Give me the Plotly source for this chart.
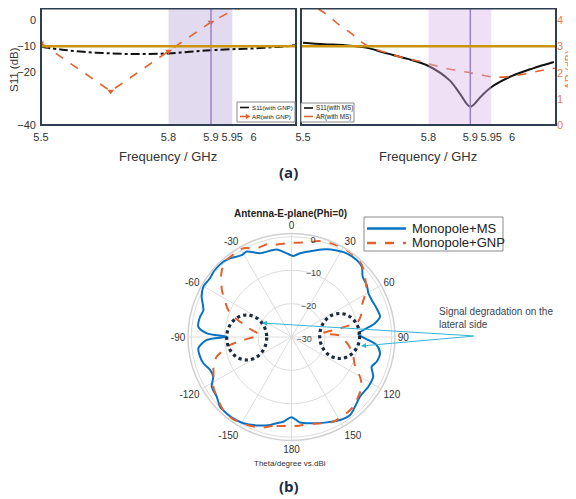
import plotly.graph_objects as go

# ---------------- data: panel (a) ----------------
freq_s11_gnp = [5.5, 5.55, 5.6, 5.65, 5.7, 5.75, 5.8, 5.85, 5.9, 5.95, 6.0, 6.05, 6.1]
s11_gnp = [-10.2, -11.3, -12.1, -12.6, -12.9, -12.9, -12.7, -12.1, -11.5, -11.1, -10.8, -10.3, -9.6]

freq_ar_gnp = [5.5, 5.664, 5.8, 5.9, 5.965]
ar_gnp = [3.13, 1.29, 2.82, 3.93, 4.5]

freq_s11_ms = [5.5, 5.55, 5.6, 5.65, 5.7, 5.75, 5.8, 5.85, 5.875, 5.9, 5.925, 5.95, 6.0, 6.05, 6.1]
s11_ms = [-8.6, -9.2, -9.6, -10.5, -12.7, -14.8, -17.5, -22.9, -28.0, -33.0, -29.2, -25.6, -21.3, -18.4, -16.0]

freq_ar_ms = [5.536, 5.564, 5.588, 5.616, 5.64, 5.66, 5.708, 5.749, 5.789, 5.829, 5.869,
              5.901, 5.933, 5.957, 5.99, 6.03, 6.07, 6.102]
ar_ms = [4.44, 4.13, 3.80, 3.49, 3.17, 2.98, 2.72, 2.53, 2.40, 2.21, 2.08,
         1.99, 1.89, 1.83, 1.85, 1.95, 2.08, 2.17]

freq_ticks = [5.5, 5.8, 5.9, 5.95, 6.0]
freq_ticktext = ["5.5", "5.8", "5.9", "5.95", "6"]
s11_ticks = [0, -10, -20, -40]
ar_ticks = [0, 1, 2, 3, 4]
band_lo, band_hi, band_center = 5.8, 5.95, 5.9
S11_THRESHOLD = -10

# ---------------- data: panel (b) polar ----------------
theta_ms = [-174.5, -170.3, -166.3, -158.5, -150.8, -144.4, -139.7, -134.3, -128.6, -121.9,
            -116.9, -112, -106.6, -102.1, -96.9, -92, -89.7, -87.5, -83.7, -77.5, -73,
            -65.8, -60.3, -54.2, -49.4, -42.2, -38, -31.3, -27.7, -20.6, -9.6, -3.3, 1.3,
            5.8, 14.2, 21.9, 27.6, 33.4, 40.3, 45, 49.7, 55.3, 60.4, 65.2, 71.4, 77.1,
            80.7, 87.4, 91, 95.4, 100.4, 106.2, 110.3, 115.9, 122.9, 131.1, 137.7, 143.1,
            149.7, 157.4, 165.8, 174.3, 180]
r_ms = [-4.5, -3.8, -2.9, -1.55, -0.4, 0.0, 0.0, -0.1, -1.35, -1.85,
        -3.7, -3.7, -2.45, -2.0, -1.9, -4.6, -10.6, -4.6, -1.9, -1.95, -2.4,
        -0.5, 0.4, 0.1, 0.5, 0.45, -0.1, -1.3, -1.1, -3.2, -3.4, -4.9, -5.7,
        -4.8, -3.35, -1.7, -0.8, 0.0, 0.2, -0.2, -2.05, -2.6, -3.5, -3.55, -3.1, -2.8,
        -4.65, -10.0, -8.0, -4.4, -3.05, -3.45, -4.4, -2.8, -2.6, -2.8, -1.75, -0.8,
        -1.2, -2.3, -3.35, -4.25, -6.0]

theta_gnp = [-180, -168, -161, -152, -144, -137, -130.7, -122.4, -117, -110, -104.8, -97.4,
             -93.6, -86, -78, -74, -70, -66, -61, -56, -48, -42, -35, -28.5, -21.4, -14.7,
             -11.3, -0.9, 9.2, 16.5, 24.2, 32.4, 38.3, 44, 50.6, 57.8, 65, 71.3, 77, 80, 83,
             88, 92, 99, 108, 115, 120, 125, 132, 138, 144, 154, 166, 175]
r_gnp = [-3.35, -2.75, -1.25, -0.35, 0.25, -0.05, -1.05, -2.25, -3.8, -5.15, -6.8, -11.4,
         -15.5, -20.3, -16.5, -14.4, -10.9, -9.0, -7.1, -4.85, -1.7, 0.05, 0.25, 0.25, -1.45, -1.25,
         -1.85, -1.85, -1.25, -0.05, 0.55, 0.85, 0.7, 0.25, -1.55, -3.5, -6.6, -7.85, -9.6, -15.3, -20.7,
         -15.6, -14.4, -12.5, -10.5, -9.0, -6.35, -4.25, -3.15, -2.15, -1.85, -1.7, -3.2, -3.35]

ang_ticks = [0, 30, 60, 90, 120, 150, 180, 210, 240, 270, 300, 330]
ang_ticktext = ["0", "30", "60", "90", "120", "150", "180", "-150", "-120", "-90", "-60", "-30"]
rad_ticks = [-30, -20, -10, 0]

# ---------------- styling ----------------
FONT = "Liberation Sans, Arial, sans-serif"
ORANGE = "#E2622F"
AR_ORANGE = "#EC7A45"
BLUE = "#0A72C2"
GOLD = "#C9950C"
FRAME = "#2E3D50"
PAGE_OFF = 8               # default body margin of the html page
W, H = 576 - PAGE_OFF, 499 - PAGE_OFF


def px_x(v):
    return min(1.0, max(0.0, (v - PAGE_OFF) / W))


def px_y(v):
    return min(1.0, max(0.0, 1 - (v - PAGE_OFF) / H))


fig = go.Figure()

# Panel (a) left
fig.add_trace(go.Scatter(x=freq_s11_gnp, y=s11_gnp, mode="lines", name="S11(with GNP)",
                         line=dict(color="#111111", width=2, dash="dashdot", shape="spline"),
                         xaxis="x", yaxis="y", showlegend=False))
fig.add_trace(go.Scatter(x=freq_ar_gnp, y=ar_gnp, mode="lines+markers", name="AR(with GNP)",
                         line=dict(color=ORANGE, width=1.6, dash="dash"),
                         marker=dict(symbol="triangle-down", size=6, color=ORANGE),
                         xaxis="x", yaxis="y4", showlegend=False))
# Panel (a) right
fig.add_trace(go.Scatter(x=freq_s11_ms, y=s11_ms, mode="lines", name="S11(with MS)",
                         line=dict(color="#111111", width=2, shape="spline"),
                         xaxis="x2", yaxis="y2", showlegend=False))
fig.add_trace(go.Scatter(x=freq_ar_ms, y=ar_ms, mode="lines", name="AR(with MS)",
                         line=dict(color=ORANGE, width=1.6, dash="dash", shape="spline"),
                         xaxis="x2", yaxis="y3", showlegend=False))

# Panel (b) polar
fig.add_trace(go.Scatterpolar(theta=theta_ms + [theta_ms[0]], r=r_ms + [r_ms[0]],
                              mode="lines", name="Monopole+MS",
                              line=dict(color=BLUE, width=2, shape="spline", smoothing=0.8),
                              subplot="polar", showlegend=False))
fig.add_trace(go.Scatterpolar(theta=theta_gnp + [theta_gnp[0]], r=r_gnp + [r_gnp[0]],
                              mode="lines", name="Monopole+GNP",
                              line=dict(color=ORANGE, width=2, dash="dash", shape="spline", smoothing=0.6),
                              subplot="polar", showlegend=False))

dom_left = [px_x(41), px_x(296)]
dom_right = [px_x(301), px_x(556)]
dom_y = [px_y(125), px_y(8)]      # top edge of the page area
S11_RANGE = [-40, 4.6]
AR_RANGE = [0, 4.47]

axis_common = dict(showgrid=False, zeroline=False, showline=False, ticks="", automargin=False,
                   tickfont=dict(family=FONT, size=11, color="#333"))

shapes = []
for xa, ya, fill, layer in [("x", "y", "rgba(190,172,220,0.45)", "below"),
                            ("x2", "y2", "rgba(215,178,232,0.40)", "above")]:
    shapes.append(dict(type="rect", xref=xa, yref=f"{ya} domain", x0=band_lo, x1=band_hi,
                       y0=0, y1=1, fillcolor=fill, line=dict(width=0), layer=layer))
    shapes.append(dict(type="line", xref=xa, yref=f"{ya} domain", x0=band_center, x1=band_center,
                       y0=0, y1=1, line=dict(color="#9C82C4", width=1.5), layer="above"))
    shapes.append(dict(type="line", xref=f"{xa} domain", yref=ya, x0=0, x1=1,
                       y0=S11_THRESHOLD, y1=S11_THRESHOLD, line=dict(color=GOLD, width=2.5), layer="above"))
    shapes.append(dict(type="rect", xref=f"{xa} domain", yref=f"{ya} domain", x0=0, x1=1, y0=0, y1=0.996,
                       line=dict(color=FRAME, width=2), layer="above"))

# dotted circles on polar
for cx, cy, rx, ry in [(246.7, 337.5, 20, 22.5), (339.7, 336, 20, 22.5)]:
    shapes.append(dict(type="circle", xref="paper", yref="paper",
                       x0=px_x(cx - rx), x1=px_x(cx + rx), y0=px_y(cy + ry), y1=px_y(cy - ry),
                       line=dict(color="#1B2A40", width=3.2, dash="dot"), layer="above"))

annotations = []


def txt(text, x, y, size, color="#333", family=FONT, angle=0, xanchor="center", yanchor="middle",
        align="center"):
    annotations.append(dict(text=text, x=px_x(x), y=px_y(y), xref="paper", yref="paper",
                            xanchor=xanchor, yanchor=yanchor, align=align, textangle=angle,
                            showarrow=False, font=dict(family=family, size=size, color=color)))


def add_legend(box, entries, font_size, line_len, text_gap, line_w):
    x0, y0, x1, y1 = box
    shapes.append(dict(type="rect", xref="paper", yref="paper", x0=px_x(x0), x1=px_x(x1),
                       y0=px_y(y1), y1=px_y(y0), fillcolor="white",
                       line=dict(color="#8A8A8A", width=1), layer="above"))
    for (label, color, dash, marker, yy) in entries:
        lx0 = x0 + 3
        lx1 = lx0 + line_len
        shapes.append(dict(type="line", xref="paper", yref="paper", x0=px_x(lx0), x1=px_x(lx1),
                           y0=px_y(yy), y1=px_y(yy), line=dict(color=color, width=line_w, dash=dash),
                           layer="above"))
        if marker:
            path = (f"M {px_x(lx1 - 3)},{px_y(yy - 2.2)} L {px_x(lx1 + 1)},{px_y(yy)} "
                    f"L {px_x(lx1 - 3)},{px_y(yy + 2.2)} Z")
            shapes.append(dict(type="path", xref="paper", yref="paper", path=path,
                               fillcolor=color, line=dict(color=color, width=0.5), layer="above"))
        txt(label, lx1 + text_gap, yy, font_size, color="#222", xanchor="left")


add_legend((237, 102, 295, 122),
           [("S11(with GNP)", "#111111", "dashdot", False, 107.5),
            ("AR(with GNP)", ORANGE, "dash", True, 116.5)], 6.2, 9, 1, 1.6)
add_legend((301, 103, 354, 122),
           [("S11(with MS)", "#111111", "solid", False, 108),
            ("AR(with MS)", ORANGE, "dash", False, 116.5)], 6.3, 9, 1, 1.6)
add_legend((364, 217, 503, 251),
           [("Monopole+MS", BLUE, "solid", False, 228.5),
            ("Monopole+GNP", ORANGE, "dash", False, 243)], 13, 39, 4, 2.5)

txt("S11 (dB)", 14, 70, 11.5, angle=-90)
txt("AR (dB)", 568.5, 70, 11, color=AR_ORANGE, angle=-90)
txt("Frequency / GHz", 168, 156, 13)
txt("Frequency / GHz", 428, 156, 13)
txt("<b>(a)</b>", 288, 172, 15, color="#1E2B45", family="Open Sans, DejaVu Sans, sans-serif")
txt("<b>(b)</b>", 289, 486, 15, color="#1E2B45", family="Open Sans, DejaVu Sans, sans-serif")
txt("<b>Antenna-E-plane(Phi=0)</b>", 290, 213, 10, color="#222")
txt("Theta/degree vs.dBi", 290, 463, 8)
txt("Signal degradation on the<br>lateral side", 437, 304, 10, color="#3A4350",
    xanchor="left", yanchor="top", align="left")

for hx, hy, tx, ty in [(262, 323, 475, 336), (361, 346, 475, 336)]:
    annotations.append(dict(text="", x=px_x(hx), y=px_y(hy), xref="paper", yref="paper",
                            ax=tx - hx, ay=ty - hy, axref="pixel", ayref="pixel", showarrow=True,
                            arrowhead=2, arrowsize=1, arrowwidth=1, arrowcolor="#35B5D6"))

fig.update_layout(
    width=W, height=H, margin=dict(l=0, r=0, t=0, b=0, autoexpand=False),
    paper_bgcolor="white", plot_bgcolor="white", showlegend=False,
    font=dict(family=FONT, color="#333"),
    xaxis=dict(domain=dom_left, range=[5.5, 6.1], tickvals=freq_ticks, ticktext=freq_ticktext,
               anchor="y", ticklabelstandoff=4, **axis_common),
    yaxis=dict(domain=dom_y, range=S11_RANGE, tickvals=s11_ticks, anchor="x",
               ticklabelstandoff=4, **axis_common),
    yaxis4=dict(overlaying="y", range=AR_RANGE, visible=False, anchor="x"),
    xaxis2=dict(domain=dom_right, range=[5.495, 6.105], tickvals=freq_ticks, ticktext=freq_ticktext,
                anchor="y2", ticklabelstandoff=4, **axis_common),
    yaxis2=dict(domain=dom_y, range=S11_RANGE, anchor="x2", showticklabels=False, automargin=False,
                showgrid=False, zeroline=False, showline=False, ticks=""),
    yaxis3=dict(overlaying="y2", side="right", range=AR_RANGE, tickvals=ar_ticks, anchor="x2",
                showgrid=False, zeroline=False, showline=False, ticks="", automargin=False,
                ticklabelstandoff=0, tickfont=dict(family=FONT, size=11, color=AR_ORANGE)),
    polar=dict(
        domain=dict(x=[px_x(188), px_x(395)], y=[px_y(440.5), px_y(233.5)]),
        bgcolor="white",
        angularaxis=dict(rotation=90, direction="clockwise", tickvals=ang_ticks,
                         ticktext=ang_ticktext, showgrid=True, gridcolor="#DDDDDD",
                         linecolor="#D0D0D0", linewidth=1.5, ticks="",
                         tickfont=dict(family=FONT, size=10, color="#333")),
        radialaxis=dict(range=[-30, 1], tickvals=rad_ticks, angle=82, tickangle=82, showline=False,
                        gridcolor="#DDDDDD", ticks="",
                        tickfont=dict(family=FONT, size=9, color="#444")),
    ),
    shapes=shapes,
    annotations=annotations,
)

fig.write_html("out.html")
